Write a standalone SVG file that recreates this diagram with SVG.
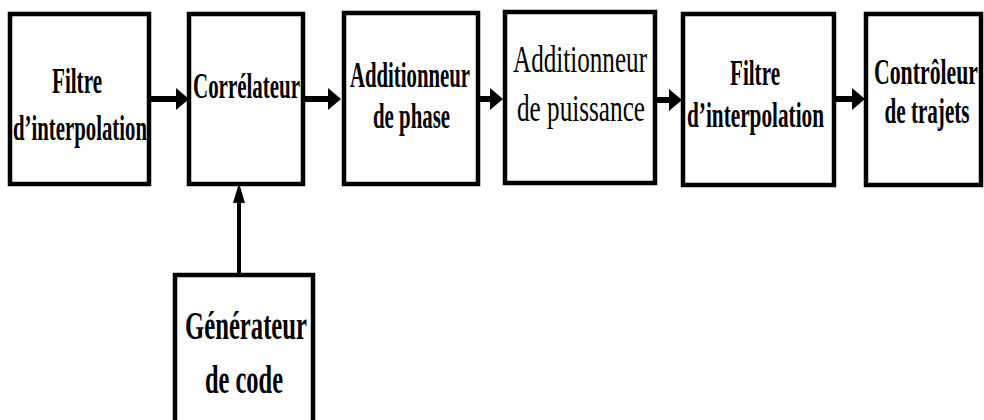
<svg xmlns="http://www.w3.org/2000/svg" width="984" height="420" viewBox="0 0 984 420">
  <style>
    .box { fill: #ffffff; stroke: #000000; stroke-width: 4.5; }
    .lbl { font-family: "Liberation Serif", "Times New Roman", serif; font-weight: bold; font-size: 36px; fill: #000000; text-anchor: middle; }
    .reg { font-weight: normal; font-size: 38px; }
    .big { font-size: 40px; }
    .wire { stroke: #000000; stroke-width: 6; fill: none; }
    .wire-thin { stroke: #000000; stroke-width: 4; fill: none; }
    .head { fill: #000000; }
  </style>

  <rect width="984" height="420" fill="#ffffff"/>

  <!-- connectors -->
  <g id="connectors">
    <line class="wire" x1="151" y1="99" x2="178" y2="99"/>
    <polygon class="head" points="176,88 189,99 176,110"/>

    <line class="wire" x1="305" y1="99" x2="330" y2="99"/>
    <polygon class="head" points="328,88 341,99 328,110"/>

    <line class="wire" x1="480" y1="99" x2="492" y2="99"/>
    <polygon class="head" points="490,88 503,99 490,110"/>

    <line class="wire" x1="657" y1="100" x2="671" y2="100"/>
    <polygon class="head" points="669,89 682,100 669,111"/>

    <line class="wire" x1="836" y1="99" x2="854" y2="99"/>
    <polygon class="head" points="852,88 865,99 852,110"/>

    <line class="wire-thin" x1="239" y1="274" x2="239" y2="200"/>
    <polygon class="head" points="233,203 239,183 245,203"/>
  </g>

  <!-- interpolation filter (input) -->
  <g id="filtre-interpolation-1">
    <rect class="box" x="10" y="14" width="139" height="170"/>
    <text class="lbl" x="77" y="93" textLength="50" lengthAdjust="spacingAndGlyphs">Filtre</text>
    <text class="lbl" x="80" y="140" textLength="134" lengthAdjust="spacingAndGlyphs">d’interpolation</text>
  </g>

  <!-- correlator -->
  <g id="correlateur">
    <rect class="box" x="189" y="14" width="114" height="170"/>
    <text class="lbl" x="246.5" y="98" textLength="107" lengthAdjust="spacingAndGlyphs">Corrélateur</text>
  </g>

  <!-- phase adder -->
  <g id="additionneur-phase">
    <rect class="box" x="344" y="13" width="134" height="171"/>
    <text class="lbl" x="410" y="87" textLength="120" lengthAdjust="spacingAndGlyphs">Additionneur</text>
    <text class="lbl" x="411.5" y="128" textLength="77" lengthAdjust="spacingAndGlyphs">de phase</text>
  </g>

  <!-- power adder -->
  <g id="additionneur-puissance">
    <rect class="box" x="505" y="12" width="150" height="171"/>
    <text class="lbl reg" x="580" y="72" textLength="134" lengthAdjust="spacingAndGlyphs">Additionneur</text>
    <text class="lbl reg" x="581" y="121" textLength="128" lengthAdjust="spacingAndGlyphs">de puissance</text>
  </g>

  <!-- interpolation filter (output) -->
  <g id="filtre-interpolation-2">
    <rect class="box" x="683" y="14" width="151" height="171"/>
    <text class="lbl" x="755" y="85" textLength="50" lengthAdjust="spacingAndGlyphs">Filtre</text>
    <text class="lbl" x="755.5" y="127" textLength="137" lengthAdjust="spacingAndGlyphs">d’interpolation</text>
  </g>

  <!-- path controller -->
  <g id="controleur-trajets">
    <rect class="box" x="866" y="14" width="115" height="171"/>
    <text class="lbl" x="926" y="84" textLength="104" lengthAdjust="spacingAndGlyphs">Contrôleur</text>
    <text class="lbl" x="927" y="123" textLength="85" lengthAdjust="spacingAndGlyphs">de trajets</text>
  </g>

  <!-- code generator -->
  <g id="generateur-code">
    <rect class="box" x="175" y="275" width="138" height="160"/>
    <text class="lbl big" x="246" y="339" textLength="122" lengthAdjust="spacingAndGlyphs">Générateur</text>
    <text class="lbl big" x="244" y="393" textLength="78" lengthAdjust="spacingAndGlyphs">de code</text>
  </g>
</svg>
